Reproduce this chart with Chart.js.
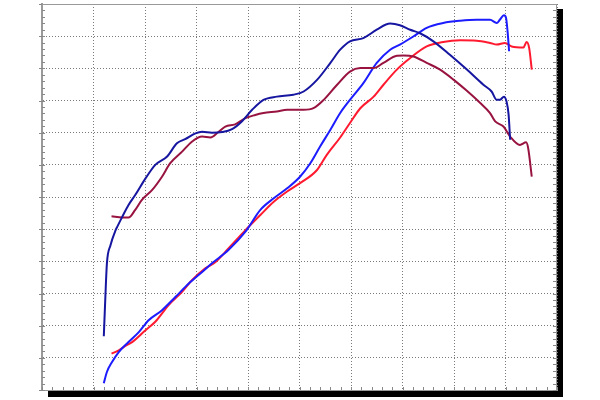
<!DOCTYPE html>
<html>
<head>
<meta charset="utf-8">
<script src="https://cdn.jsdelivr.net/npm/chart.js@4.4.0/dist/chart.umd.min.js"></script>
<style>
  html, body { margin: 0; padding: 0; background: #fff; }
  #wrap { width: 600px; height: 400px; }
</style>
</head>
<body>
<div id="wrap"><canvas id="dynoChart" width="600" height="400"></canvas></div>
<script>
// grid: 10 columns by 12 rows, no labels on the axes
const xTicks = [0, 1, 2, 3, 4, 5, 6, 7, 8, 9, 10];
const yTicks = [0, 1, 2, 3, 4, 5, 6, 7, 8, 9, 10, 11, 12];

// run 1, dark blue
const navyX = [1.20, 1.23, 1.26, 1.33, 1.43, 1.46, 1.56, 1.68, 1.81, 2.01, 2.20, 2.43, 2.62, 2.78, 2.98, 3.11, 3.30, 3.50, 3.69, 3.88, 4.08, 4.30, 4.56, 4.88, 5.08, 5.34, 5.60, 5.79, 5.98, 6.24, 6.50, 6.76, 6.95, 7.15, 7.34, 7.60, 7.92, 8.25, 8.57, 8.73, 8.83, 8.89, 8.97, 9.02, 9.06, 9.09];
const navyY = [1.67, 2.88, 3.93, 4.50, 4.97, 5.07, 5.39, 5.75, 6.06, 6.58, 7.00, 7.26, 7.67, 7.80, 7.98, 8.03, 8.00, 8.02, 8.11, 8.35, 8.71, 9.02, 9.12, 9.18, 9.28, 9.64, 10.17, 10.58, 10.84, 10.94, 11.20, 11.39, 11.34, 11.20, 11.09, 10.84, 10.42, 9.96, 9.49, 9.28, 9.02, 9.02, 9.12, 8.97, 8.56, 7.78];

// run 2, dark red
const maroonX = [1.35, 1.56, 1.68, 1.81, 1.94, 2.14, 2.33, 2.49, 2.72, 2.91, 3.11, 3.27, 3.43, 3.56, 3.75, 3.95, 4.14, 4.30, 4.56, 4.76, 5.08, 5.27, 5.47, 5.73, 5.98, 6.18, 6.44, 6.63, 6.89, 7.02, 7.21, 7.47, 7.73, 7.99, 8.25, 8.51, 8.70, 8.80, 8.96, 9.09, 9.28, 9.40, 9.44, 9.51];
const maroonY = [5.40, 5.36, 5.36, 5.60, 5.91, 6.22, 6.63, 7.05, 7.41, 7.72, 7.88, 7.85, 8.03, 8.19, 8.26, 8.45, 8.55, 8.61, 8.66, 8.71, 8.71, 8.76, 9.02, 9.49, 9.90, 10.01, 10.01, 10.17, 10.39, 10.40, 10.37, 10.17, 9.96, 9.65, 9.30, 8.92, 8.61, 8.35, 8.19, 7.88, 7.62, 7.70, 7.52, 6.63];

// run 1, bright blue
const blueX = [1.20, 1.26, 1.36, 1.49, 1.68, 1.88, 2.07, 2.33, 2.59, 2.85, 3.11, 3.30, 3.62, 3.95, 4.24, 4.50, 4.76, 5.01, 5.21, 5.40, 5.60, 5.79, 5.98, 6.24, 6.50, 6.76, 6.95, 7.21, 7.47, 7.79, 8.12, 8.44, 8.70, 8.83, 8.89, 8.97, 9.01, 9.04, 9.07];
const blueY = [0.21, 0.56, 0.87, 1.18, 1.49, 1.80, 2.17, 2.48, 2.89, 3.31, 3.67, 3.94, 4.35, 4.92, 5.60, 5.96, 6.27, 6.63, 7.05, 7.57, 8.09, 8.61, 9.02, 9.54, 10.17, 10.58, 10.74, 10.99, 11.26, 11.41, 11.48, 11.51, 11.51, 11.41, 11.51, 11.65, 11.57, 11.15, 10.53];

// run 2, bright red
const redX = [1.35, 1.49, 1.62, 1.75, 2.01, 2.20, 2.46, 2.72, 2.91, 3.17, 3.37, 3.62, 3.95, 4.24, 4.50, 4.76, 5.01, 5.34, 5.53, 5.79, 5.98, 6.18, 6.44, 6.63, 6.89, 7.15, 7.47, 7.79, 8.12, 8.44, 8.70, 8.83, 8.99, 9.12, 9.35, 9.41, 9.46, 9.51];
const redY = [1.13, 1.23, 1.37, 1.49, 1.86, 2.12, 2.64, 3.05, 3.41, 3.78, 3.98, 4.40, 4.97, 5.44, 5.85, 6.17, 6.43, 6.84, 7.31, 7.85, 8.30, 8.76, 9.12, 9.49, 9.96, 10.32, 10.68, 10.82, 10.87, 10.86, 10.79, 10.74, 10.79, 10.68, 10.65, 10.82, 10.63, 9.96];

const toPoints = (xs, ys) => xs.map((x, i) => ({ x, y: ys[i] }));

const series = [
  { data: toPoints(navyX, navyY), color: '#1616a0' },
  { data: toPoints(maroonX, maroonY), color: '#981340' },
  { data: toPoints(blueX, blueY), color: '#1c1cff' },
  { data: toPoints(redX, redY), color: '#ff1a30' },
];

// drop shadow behind the plot, border and the small minor ticks
const framePlugin = {
  id: 'frame',
  beforeDraw(chart) {
    const { ctx, chartArea: a } = chart;
    ctx.save();
    ctx.fillStyle = '#000';
    ctx.fillRect(a.left + 6, a.top + 5, a.right - a.left + 0, a.bottom - a.top + 2);
    ctx.fillStyle = '#fff';
    ctx.fillRect(a.left, a.top, a.right - a.left, a.bottom - a.top);
    ctx.restore();
  },
  beforeDatasetsDraw(chart) {
    const { ctx, chartArea: a, scales: { x, y } } = chart;
    ctx.save();
    ctx.strokeStyle = '#888';
    ctx.lineWidth = 1;
    ctx.beginPath();
    for (let v = 0; v <= 12.001; v += 0.2) {
      const py = Math.round(y.getPixelForValue(v)) + 0.5;
      const major = Math.abs(v - Math.round(v)) < 0.01;
      ctx.moveTo(a.left + (major ? -3 : 0), py);
      ctx.lineTo(a.left + 3, py);
      ctx.moveTo(a.right - 4, py);
      ctx.lineTo(a.right, py);
    }
    for (let v = 0; v <= 10.001; v += 0.2) {
      const px = Math.round(x.getPixelForValue(v)) + 0.5;
      ctx.moveTo(px, a.bottom);
      ctx.lineTo(px, a.bottom - 3);
    }
    ctx.stroke();
    ctx.strokeStyle = '#999';
    ctx.beginPath();
    ctx.moveTo(a.left, a.top + 0.5);
    ctx.lineTo(a.right, a.top + 0.5);
    ctx.moveTo(a.right - 0.5, a.top);
    ctx.lineTo(a.right - 0.5, a.bottom);
    ctx.stroke();
    ctx.restore();
  },
};

new Chart(document.getElementById('dynoChart'), {
  type: 'line',
  data: {
    datasets: series.map((s) => ({
      data: s.data,
      borderColor: s.color,
      borderWidth: 2,
      pointRadius: 0,
      fill: false,
      cubicInterpolationMode: 'monotone',
    })),
  },
  options: {
    responsive: false,
    animation: false,
    layout: { padding: { left: 42, top: 4, right: 43, bottom: 10 } },
    plugins: { legend: { display: false }, tooltip: { enabled: false } },
    scales: {
      x: {
        type: 'linear',
        min: xTicks[0],
        max: xTicks[xTicks.length - 1],
        afterBuildTicks: (scale) => { scale.ticks = xTicks.map((v) => ({ value: v })); },
        ticks: { display: false },
        grid: { color: '#7a7a7a', lineWidth: 1, drawTicks: false, tickLength: 0 },
        border: { display: true, color: '#999', width: 1, dash: [1, 2] },
      },
      y: {
        type: 'linear',
        min: yTicks[0],
        max: yTicks[yTicks.length - 1],
        afterBuildTicks: (scale) => { scale.ticks = yTicks.map((v) => ({ value: v })); },
        ticks: { display: false },
        grid: { color: '#7a7a7a', lineWidth: 1, drawTicks: false, tickLength: 0 },
        border: { display: true, color: '#999', width: 2, dash: [1, 2] },
      },
    },
  },
  plugins: [framePlugin],
});
</script>
</body>
</html>
